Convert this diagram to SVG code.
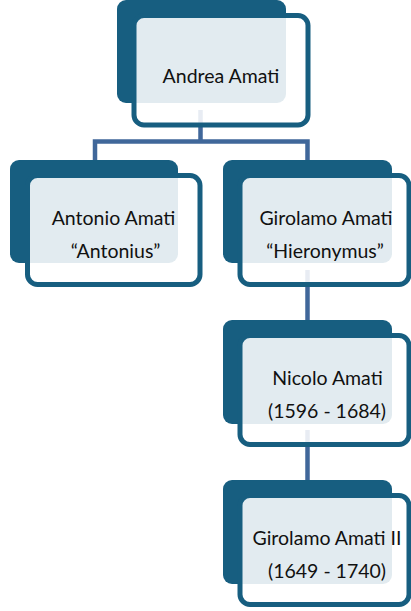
<svg xmlns="http://www.w3.org/2000/svg" width="411" height="611" viewBox="0 0 411 611">
  <style>
    .dark { fill: #175e80; }
    .card { fill: #ffffff; fill-opacity: 0.88; stroke: #175e80; stroke-width: 5; }
    .conn { fill: none; stroke: #40679a; stroke-width: 4.5; }
    text { font-family: Lato, "Open Sans", sans-serif; font-size: 19.5px; fill: #111111; text-anchor: middle; }
  </style>
  <rect width="411" height="611" fill="#ffffff"/>
  <g id="connectors">
    <path class="conn" d="M95 160 V141.5 H307.5 V160 M200.5 110 V141.5"/>
    <path class="conn" d="M307.5 270 V320"/>
    <path class="conn" d="M307.5 430 V480"/>
  </g>
  <g id="andrea">
    <rect class="dark" x="117" y="0" width="169" height="103" rx="9"/>
    <rect class="card" x="134" y="15.5" width="174" height="109.5" rx="10"/>
    <text x="221" y="82.5">Andrea Amati</text>
  </g>
  <g id="antonio">
    <rect class="dark" x="10" y="160" width="168" height="103" rx="9"/>
    <rect class="card" x="27.5" y="175.5" width="172.5" height="109" rx="10"/>
    <text x="113.5" y="225">Antonio Amati</text>
    <text x="115.5" y="258">“Antonius”</text>
  </g>
  <g id="girolamo">
    <rect class="dark" x="223" y="160" width="169" height="103" rx="9"/>
    <rect class="card" x="240" y="175.5" width="169" height="109" rx="10"/>
    <text x="326" y="225">Girolamo Amati</text>
    <text x="325" y="258">“Hieronymus”</text>
  </g>
  <g id="nicolo">
    <rect class="dark" x="223" y="320" width="169" height="104" rx="9"/>
    <rect class="card" x="240" y="335.5" width="169" height="109" rx="10"/>
    <text x="327.5" y="385">Nicolo Amati</text>
    <text x="327" y="418">(1596 - 1684)</text>
  </g>
  <g id="girolamo2">
    <rect class="dark" x="223" y="480" width="169" height="104" rx="9"/>
    <rect class="card" x="240" y="495.5" width="169" height="109" rx="10"/>
    <text x="327" y="545">Girolamo Amati II</text>
    <text x="327" y="578">(1649 - 1740)</text>
  </g>
</svg>
